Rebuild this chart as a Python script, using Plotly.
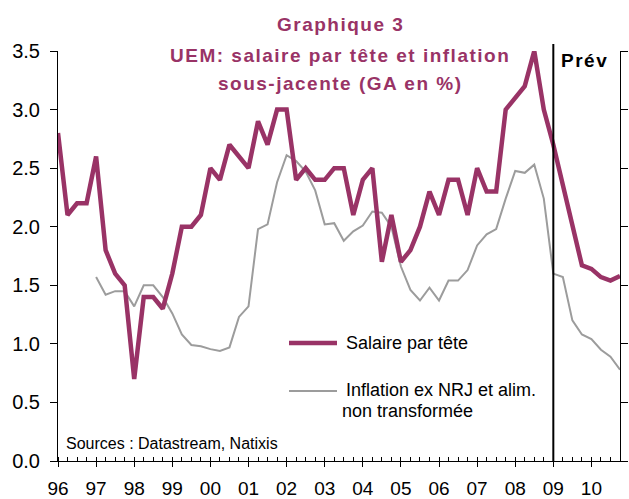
import plotly.graph_objects as go

# ---- data (quarterly, year-over-year %, from 1996Q1) ----
wage_start = 1996.0
wage = [2.8, 2.1, 2.2, 2.2,
        2.6, 1.8, 1.6, 1.5,
        0.7, 1.4, 1.4, 1.3,
        1.6, 2.0, 2.0, 2.1,
        2.5, 2.4, 2.7, 2.6,
        2.5, 2.9, 2.7, 3.0,
        3.0, 2.4, 2.5, 2.4,
        2.4, 2.5, 2.5, 2.1,
        2.4, 2.5, 1.7, 2.1,
        1.7, 1.8, 2.0, 2.3,
        2.1, 2.4, 2.4, 2.1,
        2.5, 2.3, 2.3, 3.0,
        3.1, 3.2, 3.5, 3.0,
        2.7, 2.35, 2.0, 1.67,
        1.64, 1.57, 1.54, 1.58]

infl_start = 1997.0
inflation = [1.57, 1.42, 1.45, 1.45,
             1.32, 1.50, 1.50, 1.40,
             1.26, 1.08, 0.99, 0.98,
             0.955, 0.94, 0.97, 1.23,
             1.32, 1.98, 2.02, 2.38,
             2.61, 2.56, 2.47, 2.31,
             2.02, 2.03, 1.88, 1.96,
             2.01, 2.13, 2.12, 2.00,
             1.66, 1.46, 1.37, 1.48,
             1.37, 1.54, 1.54, 1.63,
             1.84, 1.935, 1.98, 2.24,
             2.476, 2.46, 2.53, 2.24,
             1.60, 1.57, 1.20, 1.08,
             1.04, 0.95, 0.89, 0.78]

years = list(range(1996, 2011))
year_labels = ["96", "97", "98", "99", "00", "01", "02", "03", "04", "05",
               "06", "07", "08", "09", "10"]
forecast_start = 2009.0

title_lines = ["Graphique 3", "UEM: salaire par tête et inflation", "sous-jacente (GA en %)"]
series_names = ["Salaire par tête", "Inflation ex NRJ et alim.", "non transformée"]
source_text = "Sources : Datastream, Natixis"

# ---- styling ----
PURPLE = "#993366"
GRAY = "#9c9c9c"
FONT = "Liberation Sans, Arial, sans-serif"
W, H = 629, 499
L, R, T, B = 58, 9, 51, 38
PW, PH = W - L - R, H - T - B


def px(x):
    return (x - L) / PW


def py(y):
    return (H - B - y) / PH


def sp(text, s=1.5):
    return f'<span style="letter-spacing:{s}px">{text}</span>'


wx = [wage_start + 0.25 * i for i in range(len(wage))]
ix = [infl_start + 0.25 * i for i in range(len(inflation))]

fig = go.Figure()
fig.add_trace(go.Scatter(x=ix, y=inflation, mode="lines", name=series_names[1],
                         line=dict(color=GRAY, width=2), showlegend=False))
fig.add_trace(go.Scatter(x=wx, y=wage, mode="lines", name=series_names[0],
                         line=dict(color=PURPLE, width=4.5), showlegend=False))

annotations = []
for text, yc in zip(title_lines, [25, 55, 84]):
    annotations.append(dict(xref="paper", yref="paper", x=px(340), y=py(yc),
                            text=sp(text), showarrow=False, xanchor="center", yanchor="middle",
                            font=dict(family=FONT, size=19, color=PURPLE, weight="bold")))
annotations.append(dict(xref="paper", yref="paper", x=px(559), y=py(60), text=sp("Prév"),
                        showarrow=False, xanchor="left", yanchor="middle",
                        font=dict(family=FONT, size=19, color="black", weight="bold")))
annotations.append(dict(xref="paper", yref="paper", x=px(344), y=py(343), text=series_names[0],
                        showarrow=False, xanchor="left", yanchor="middle",
                        font=dict(family=FONT, size=18, color="black")))
annotations.append(dict(xref="paper", yref="paper", x=px(344), y=py(390), text=series_names[1],
                        showarrow=False, xanchor="left", yanchor="middle",
                        font=dict(family=FONT, size=18, color="black")))
annotations.append(dict(xref="paper", yref="paper", x=px(340), y=py(411), text=series_names[2],
                        showarrow=False, xanchor="left", yanchor="middle",
                        font=dict(family=FONT, size=18, color="black")))
annotations.append(dict(xref="paper", yref="paper", x=px(64), y=py(443), text=source_text,
                        showarrow=False, xanchor="left", yanchor="middle",
                        font=dict(family=FONT, size=16, color="black")))

shapes = [
    dict(type="line", xref="x", yref="paper", x0=forecast_start, x1=forecast_start,
         y0=0, y1=py(44), line=dict(color="black", width=2)),
    dict(type="line", xref="paper", yref="paper", x0=px(289), x1=px(337),
         y0=py(343), y1=py(343), line=dict(color=PURPLE, width=4.5)),
    dict(type="line", xref="paper", yref="paper", x0=px(289), x1=px(337),
         y0=py(391), y1=py(391), line=dict(color=GRAY, width=2)),
]

fig.update_layout(
    width=W, height=H,
    margin=dict(l=L, r=R, t=T, b=B, pad=0, autoexpand=False),
    paper_bgcolor="white", plot_bgcolor="white",
    font=dict(family=FONT, size=20, color="black"),
    annotations=annotations, shapes=shapes,
    xaxis=dict(range=[1996, 2010.75], tickmode="array", tickvals=years, ticktext=year_labels,
               showgrid=False, zeroline=False, showline=True, linecolor="black", linewidth=1,
               ticks="outside", ticklen=5, tickcolor="black", ticklabelstandoff=5,
               tickfont=dict(size=19), automargin=False,
               minor=dict(tickmode="linear", tick0=1996, dtick=0.25, ticks="inside",
                          ticklen=4, tickcolor="black", showgrid=False)),
    yaxis=dict(range=[0, 3.5], tickmode="linear", tick0=0, dtick=0.5, tickformat=".1f",
               showgrid=False, zeroline=False, showline=True, linecolor="black", linewidth=1,
               mirror="ticks", ticks="outside", ticklen=7, tickcolor="black",
               ticklabelstandoff=6, tickfont=dict(size=20), automargin=False),
)

fig.write_html("out.html", config={"displayModeBar": False},
               post_script="document.body.style.margin='0';")
